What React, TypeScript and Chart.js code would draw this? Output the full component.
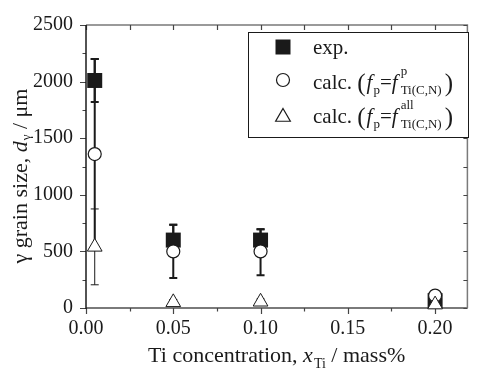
import React, { useEffect, useRef } from 'react';
import { Chart, registerables } from 'chart.js';

Chart.register(...registerables);

// Ti content of the steels (mass%)
const tiContent = [0.005, 0.05, 0.1, 0.2];

// Measured austenite grain size (µm) and its scatter band
const expSize = [2010, 600, 600, 65];
const expLow = [1820, 465, 505, 65];
const expHigh = [2200, 735, 695, 65];

// Calculated with f_p = f^p_Ti(C,N)
const calcPSize = [1360, 500, 500, 110];
const calcPLow = [530, 265, 290, 110];
const calcPHigh = [2200, 735, 695, 110];

// Calculated with f_p = f^all_Ti(C,N)
const calcAllSize = [540, 50, 55, 30];
const calcAllLow = [205, 25, 30, 30];
const calcAllHigh = [875, 75, 80, 30];

// Axis ranges and tick positions
const xMin = 0;
const xMax = 0.2185;
const yMin = 0;
const yMax = 2500;
const xTickValues = [0, 0.05, 0.1, 0.15, 0.2];
const yTickValues = [0, 500, 1000, 1500, 2000, 2500];
const xMinorStep = 0.025;
const yMinorStep = 250;

const SERIF = '"Liberation Serif", "Times New Roman", serif';
const INK = '#1a1a1a';
const GREY = '#7a7a7a';

type Piece = { t: string; size: number; italic?: boolean; dy?: number; x?: number };

function drawPieces(ctx: CanvasRenderingContext2D, pieces: Piece[], x0: number, y: number) {
  let x = x0;
  for (const p of pieces) {
    ctx.font = `${p.italic ? 'italic ' : ''}${p.size}px ${SERIF}`;
    ctx.fillText(p.t, x + (p.x ?? 0), y + (p.dy ?? 0));
    x += ctx.measureText(p.t).width + (p.x ?? 0);
  }
  return x;
}

function piecesWidth(ctx: CanvasRenderingContext2D, pieces: Piece[]) {
  let w = 0;
  for (const p of pieces) {
    ctx.font = `${p.italic ? 'italic ' : ''}${p.size}px ${SERIF}`;
    w += ctx.measureText(p.t).width + (p.x ?? 0);
  }
  return w;
}

const errorBars = {
  id: 'errorBars',
  beforeDatasetsDraw(chart: any) {
    const { ctx, scales } = chart;
    const xs = scales.x;
    const ys = scales.y;
    const sets = [
      { lo: expLow, hi: expHigh, w: 2 },
      { lo: calcPLow, hi: calcPHigh, w: 2 },
      { lo: calcAllLow, hi: calcAllHigh, w: 1 },
    ];
    ctx.save();
    ctx.strokeStyle = INK;
    for (const s of sets) {
      ctx.lineWidth = s.w;
      tiContent.forEach((xv, i) => {
        if (s.hi[i] - s.lo[i] <= 0) return;
        const px = xs.getPixelForValue(xv);
        const top = ys.getPixelForValue(s.hi[i]);
        const bot = ys.getPixelForValue(s.lo[i]);
        ctx.beginPath();
        ctx.moveTo(px, top);
        ctx.lineTo(px, bot);
        ctx.moveTo(px - 4, top);
        ctx.lineTo(px + 4, top);
        ctx.moveTo(px - 4, bot);
        ctx.lineTo(px + 4, bot);
        ctx.stroke();
      });
    }
    ctx.restore();
  },
};

const frame = {
  id: 'frame',
  beforeDatasetsDraw(chart: any) {
    const { ctx, chartArea: a, scales } = chart;
    const xs = scales.x;
    const ys = scales.y;
    ctx.save();
    // top and right borders
    ctx.strokeStyle = GREY;
    ctx.lineWidth = 1.5;
    ctx.beginPath();
    ctx.moveTo(a.left, a.top);
    ctx.lineTo(a.right, a.top);
    ctx.lineTo(a.right, a.bottom);
    ctx.stroke();
    // bottom axis
    ctx.lineWidth = 2;
    ctx.beginPath();
    ctx.moveTo(a.left, a.bottom);
    ctx.lineTo(a.right, a.bottom);
    ctx.stroke();
    // x ticks: outward at the bottom, inward at the top
    ctx.lineWidth = 1.2;
    ctx.strokeStyle = '#444';
    for (let v = xMin; v <= xMax + 1e-9; v += xMinorStep) {
      const px = Math.round(xs.getPixelForValue(v)) + 0.5;
      const major = xTickValues.some((t) => Math.abs(t - v) < 1e-6);
      ctx.beginPath();
      ctx.moveTo(px, a.bottom);
      ctx.lineTo(px, a.bottom + (major ? 6 : 3.5));
      ctx.moveTo(px, a.top);
      ctx.lineTo(px, a.top + 5);
      ctx.stroke();
    }
    // y ticks: outward on the left, inward on the right
    for (let v = yMin; v <= yMax + 1e-9; v += yMinorStep) {
      const py = Math.round(ys.getPixelForValue(v)) + 0.5;
      const major = yTickValues.includes(v);
      ctx.beginPath();
      ctx.moveTo(a.left, py);
      ctx.lineTo(a.left - (major ? 6 : 3.5), py);
      ctx.moveTo(a.right, py);
      ctx.lineTo(a.right - 4, py);
      ctx.stroke();
    }
    // left axis
    ctx.strokeStyle = INK;
    ctx.lineWidth = 1.5;
    ctx.beginPath();
    ctx.moveTo(a.left, a.top);
    ctx.lineTo(a.left, a.bottom + 1);
    ctx.stroke();
    ctx.restore();
  },
};

const titles = {
  id: 'titles',
  afterDraw(chart: any) {
    const { ctx, chartArea: a } = chart;
    ctx.save();
    ctx.fillStyle = INK;
    ctx.textBaseline = 'alphabetic';
    ctx.textAlign = 'left';

    // x-axis title
    const xt: Piece[] = [
      { t: 'Ti concentration, ', size: 22 },
      { t: 'x', size: 22, italic: true },
      { t: 'Ti', size: 14, dy: 6, x: 1 },
      { t: ' / mass%', size: 22 },
    ];
    const xw = piecesWidth(ctx, xt);
    drawPieces(ctx, xt, (a.left + a.right) / 2 - xw / 2, 362);

    // y-axis title
    const yt: Piece[] = [
      { t: 'γ grain size, ', size: 22 },
      { t: 'd', size: 22, italic: true },
      { t: 'γ', size: 13, dy: 3, x: 1 },
      { t: ' / μm', size: 22 },
    ];
    const yw = piecesWidth(ctx, yt);
    ctx.translate(27, 176);
    ctx.rotate(-Math.PI / 2);
    drawPieces(ctx, yt, -yw / 2, 0);
    ctx.restore();
  },
};

function drawMarker(ctx: CanvasRenderingContext2D, kind: string, x: number, y: number) {
  ctx.save();
  ctx.strokeStyle = INK;
  ctx.lineWidth = 1.2;
  if (kind === 'square') {
    ctx.fillStyle = INK;
    ctx.fillRect(x - 7.5, y - 7.5, 15, 15);
  } else if (kind === 'circle') {
    ctx.fillStyle = '#fff';
    ctx.beginPath();
    ctx.arc(x, y, 6.5, 0, Math.PI * 2);
    ctx.fill();
    ctx.stroke();
  } else {
    const r = 8.5;
    ctx.fillStyle = '#fff';
    ctx.beginPath();
    ctx.moveTo(x, y - r);
    ctx.lineTo(x + r * Math.sin((2 * Math.PI) / 3), y + r / 2);
    ctx.lineTo(x - r * Math.sin((2 * Math.PI) / 3), y + r / 2);
    ctx.closePath();
    ctx.fill();
    ctx.stroke();
  }
  ctx.restore();
}

const legendBox = {
  id: 'legendBox',
  afterDraw(chart: any) {
    const { ctx } = chart;
    ctx.save();
    ctx.fillStyle = '#fff';
    ctx.fillRect(248, 32, 220, 105);
    ctx.strokeStyle = INK;
    ctx.lineWidth = 1;
    ctx.strokeRect(248.5, 32.5, 220, 105);

    drawMarker(ctx, 'square', 283, 47);
    drawMarker(ctx, 'circle', 283, 80);
    drawMarker(ctx, 'triangle', 283, 117);

    ctx.fillStyle = INK;
    ctx.textBaseline = 'alphabetic';
    drawPieces(ctx, [{ t: 'exp.', size: 21 }], 313, 54);

    const row = (sup: string, base: number) => {
      let x = drawPieces(ctx, [{ t: 'calc. ', size: 21 }], 313, base);
      x = drawPieces(ctx, [{ t: '(', size: 25 }], x, base + 2);
      x = drawPieces(
        ctx,
        [
          { t: 'f', size: 21, italic: true, x: 1 },
          { t: 'p', size: 13, dy: 5, x: 1 },
          { t: '=', size: 21 },
          { t: 'f', size: 21, italic: true },
        ],
        x,
        base
      );
      const subX = x + 3;
      ctx.font = `13px ${SERIF}`;
      ctx.fillText(sup, subX, base - 14);
      const supW = ctx.measureText(sup).width;
      ctx.fillText('Ti(C,N)', subX, base + 5);
      const subW = ctx.measureText('Ti(C,N)').width;
      drawPieces(ctx, [{ t: ')', size: 25 }], subX + Math.max(supW, subW) + 3, base + 2);
    };
    row('p', 89);
    row('all', 123);
    ctx.restore();
  },
};

export default function App() {
  const ref = useRef<HTMLCanvasElement | null>(null);

  useEffect(() => {
    if (!ref.current) return;
    const pts = (ys: number[]) => tiContent.map((x, i) => ({ x, y: ys[i] }));
    const chart = new Chart(ref.current, {
      type: 'scatter',
      data: {
        datasets: [
          {
            label: 'exp.',
            data: pts(expSize),
            pointStyle: 'rect',
            pointRadius: 10.6,
            pointHoverRadius: 10.6,
            backgroundColor: INK,
            borderColor: INK,
            borderWidth: 0,
            order: 3,
            clip: false,
          },
          {
            label: 'calc. p',
            data: pts(calcPSize),
            pointStyle: 'circle',
            pointRadius: 6.5,
            pointHoverRadius: 6.5,
            backgroundColor: '#fff',
            borderColor: INK,
            borderWidth: 1.2,
            order: 2,
            clip: false,
          },
          {
            label: 'calc. all',
            data: pts(calcAllSize),
            pointStyle: 'triangle',
            pointRadius: 8.5,
            pointHoverRadius: 8.5,
            backgroundColor: '#fff',
            borderColor: INK,
            borderWidth: 1,
            order: 1,
            clip: false,
          },
        ],
      },
      options: {
        animation: false,
        responsive: false,
        events: [],
        layout: { padding: { top: 22, right: 3, left: 0, bottom: 0 } },
        plugins: { legend: { display: false }, tooltip: { enabled: false } },
        scales: {
          x: {
            type: 'linear',
            min: xMin,
            max: xMax,
            border: { display: false },
            grid: { display: false, drawTicks: false },
            afterBuildTicks: (s: any) => {
              s.ticks = xTickValues.map((value) => ({ value }));
            },
            ticks: {
              padding: 9,
              color: INK,
              font: { family: SERIF, size: 20 },
              callback: (v: any) => Number(v).toFixed(2),
            },
            afterFit: (s: any) => {
              s.height = 62;
            },
          },
          y: {
            type: 'linear',
            min: yMin,
            max: yMax,
            border: { display: false },
            grid: { display: false, drawTicks: false },
            afterBuildTicks: (s: any) => {
              s.ticks = yTickValues.map((value) => ({ value }));
            },
            ticks: {
              padding: 13,
              color: INK,
              font: { family: SERIF, size: 20 },
              callback: (v: any) => String(v),
            },
            afterFit: (s: any) => {
              s.width = 86;
            },
          },
        },
      },
      plugins: [frame, errorBars, titles, legendBox],
    });
    return () => chart.destroy();
  }, []);

  return (
    <div style={{ position: 'fixed', left: 0, top: 0, width: 478, height: 370, background: '#fff' }}>
      <canvas ref={ref} width={478} height={370} style={{ display: 'block' }} />
    </div>
  );
}
